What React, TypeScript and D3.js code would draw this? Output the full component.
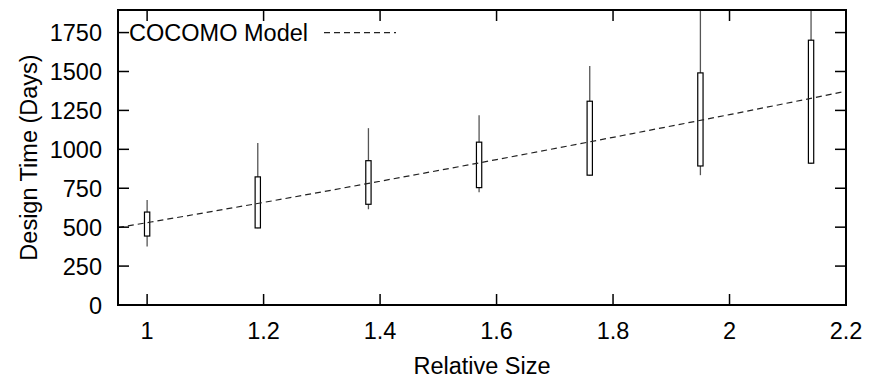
import React from "react";
import * as d3 from "d3";

const sizes = [1.0, 1.19, 1.38, 1.57, 1.76, 1.95, 2.14];
const whiskerLow = [375, 493, 615, 724, 830, 834, 905];
const boxLow = [443, 495, 647, 754, 834, 893, 911];
const boxHigh = [597, 823, 927, 1046, 1309, 1491, 1701];
const whiskerHigh = [675, 1040, 1136, 1219, 1536, 2000, 2000];

const modelSize = [0.95, 1.0, 1.2, 1.4, 1.6, 1.8, 2.0, 2.2];
const modelTime = [497, 529, 659, 795, 934, 1077, 1223, 1373];

const xTicks = [1, 1.2, 1.4, 1.6, 1.8, 2, 2.2];
const yTicks = [0, 250, 500, 750, 1000, 1250, 1500, 1750];

const W = 869;
const H = 379;
const L = 118, R = 846, T = 10, B = 305;
const FONT = "'Liberation Sans', Arial, Helvetica, sans-serif";

export default function App() {
  const x = d3.scaleLinear().domain([0.95, 2.2]).range([L, R]);
  const y = d3.scaleLinear().domain([0, 1895]).range([B, T]);
  const line = d3
    .line<number>()
    .x((_, i) => x(modelSize[i]))
    .y((d) => y(d))
    .curve(d3.curveMonotoneX);
  const bw = 5.3;
  const tl = 11;
  return (
    <svg width={W} height={H} style={{ position: "absolute", left: 0, top: 0 }} fontFamily={FONT}>
      <rect x={0} y={0} width={W} height={H} fill="#fff" />
      <defs>
        <clipPath id="plot">
          <rect x={L} y={T} width={R - L} height={B - T} />
        </clipPath>
      </defs>
      <g clipPath="url(#plot)">
        {sizes.map((s, i) => (
          <g key={i}>
            <line x1={x(s)} x2={x(s)} y1={y(whiskerLow[i])} y2={y(whiskerHigh[i])} stroke="#555" strokeWidth={1.3} />
            <rect
              x={x(s) - bw / 2}
              y={y(boxHigh[i])}
              width={bw}
              height={y(boxLow[i]) - y(boxHigh[i])}
              fill="#fff"
              stroke="#000"
              strokeWidth={1.2}
            />
          </g>
        ))}
        <path d={line(modelTime) || ""} fill="none" stroke="#222" strokeWidth={1.2} strokeDasharray="6,4" />
      </g>
      {/* ticks */}
      {xTicks.map((t) => (
        <g key={"x" + t}>
          <line x1={x(t)} x2={x(t)} y1={B} y2={B - tl} stroke="#000" strokeWidth={1.5} />
          <line x1={x(t)} x2={x(t)} y1={T} y2={T + tl} stroke="#000" strokeWidth={1.5} />
          <text x={x(t)} y={339} fontSize={23.5} textAnchor="middle" fill="#000">
            {String(t)}
          </text>
        </g>
      ))}
      {yTicks.map((t) => (
        <g key={"y" + t}>
          <line x1={L} x2={L + tl} y1={y(t)} y2={y(t)} stroke="#000" strokeWidth={1.5} />
          <line x1={R} x2={R - tl} y1={y(t)} y2={y(t)} stroke="#000" strokeWidth={1.5} />
          <text x={102} y={y(t) + 8.5} fontSize={23.5} textAnchor="end" fill="#000">
            {String(t)}
          </text>
        </g>
      ))}
      <rect x={L} y={T} width={R - L} height={B - T} fill="none" stroke="#000" strokeWidth={2} />
      {/* legend */}
      <text x={308} y={y(1750) + 8.5} fontSize={23.5} textAnchor="end" fill="#000">
        COCOMO Model
      </text>
      <line x1={324} x2={396} y1={y(1750)} y2={y(1750)} stroke="#222" strokeWidth={1.2} strokeDasharray="6,4" />
      {/* axis labels */}
      <text x={(L + R) / 2} y={374} fontSize={23.5} textAnchor="middle" fill="#000">
        Relative Size
      </text>
      <text
        transform={`translate(37, ${(T + B) / 2}) rotate(-90)`}
        fontSize={23.5}
        textAnchor="middle"
        fill="#000"
      >
        Design Time (Days)
      </text>
    </svg>
  );
}
